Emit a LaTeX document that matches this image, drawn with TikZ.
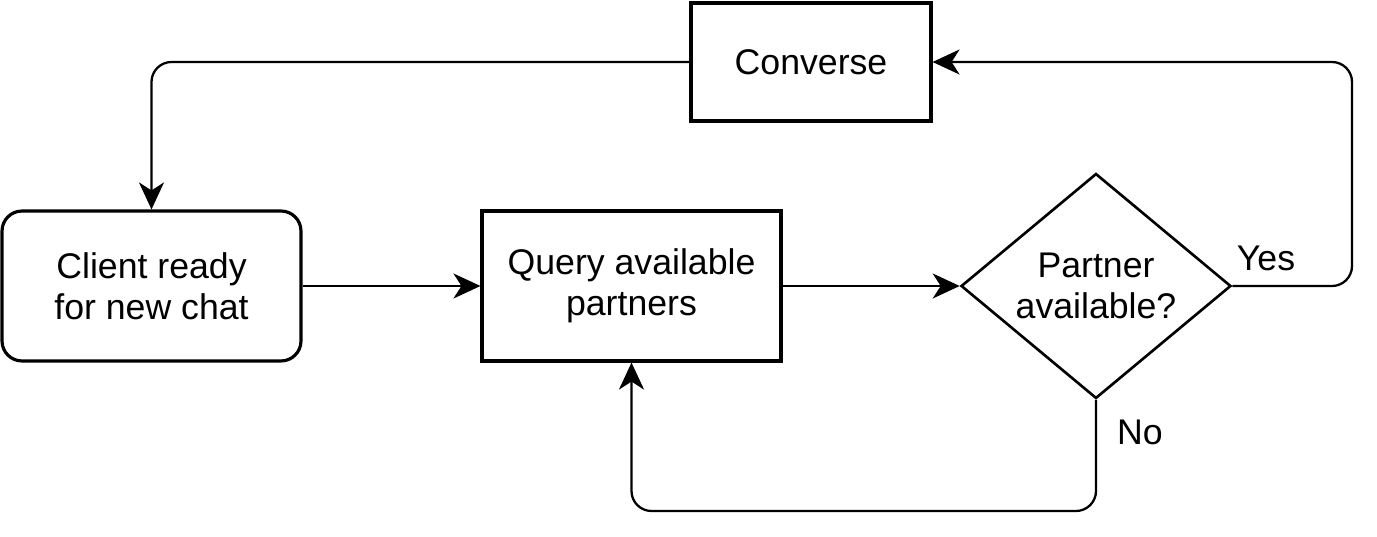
\documentclass[tikz,border=0pt]{standalone}
\usepackage{fontspec}
\setmainfont{Liberation Sans}
\usetikzlibrary{arrows.meta,shapes.geometric}

\begin{document}
\begin{tikzpicture}[x=0.02cm, y=-0.02cm,
    every node/.style={font=\fontsize{20.3}{23.5}\selectfont},
    box/.style={draw, line width=1.8pt, minimum width=5.98cm,
                minimum height=3cm, align=center, inner sep=0pt},
    decision/.style={draw, diamond, line width=1.5pt, aspect=1.2,
                     minimum width=5.4cm, minimum height=4.5cm,
                     align=center, inner sep=0pt},
    flow/.style={line width=1.3pt, rounded corners=0.4cm,
                 -{Stealth[length=0.54cm, width=0.5cm, inset=0.16cm]}}]
    \useasboundingbox (0,0) rectangle (1377,537);

    % --- boxes -----------------------------------------------------------
    \node[box, minimum width=4.8cm, minimum height=2.36cm] (converse)
      at (811,62) {Converse};
    \node[box, rounded corners=0.4cm] (client)
      at (151.5,286) {Client ready\\for new chat};
    \node[box] (query) at (631.5,286) {Query available\\partners};
    \node[decision] (partner) at (1096,286) {Partner\\available?};

    % --- connectors ------------------------------------------------------
    \draw[flow] (client.east) -- (query.west);
    \draw[flow] (query.east) -- (partner.west);

    % Yes: round the right side back up to Converse
    \draw[flow] (partner.east) -- (1352,286) -- (1352,62) -- (converse.east);
    \node at (1266,258) {Yes};

    % No: down and back into the query box
    \draw[flow] (partner.south) -- (1096,511) -- (631.5,511) -- (query.south);
    \node at (1140,432) {No};

    % Converse returns to the client
    \draw[flow] (converse.west) -- (151.5,62) -- (client.north);
  \end{tikzpicture}
\end{document}
